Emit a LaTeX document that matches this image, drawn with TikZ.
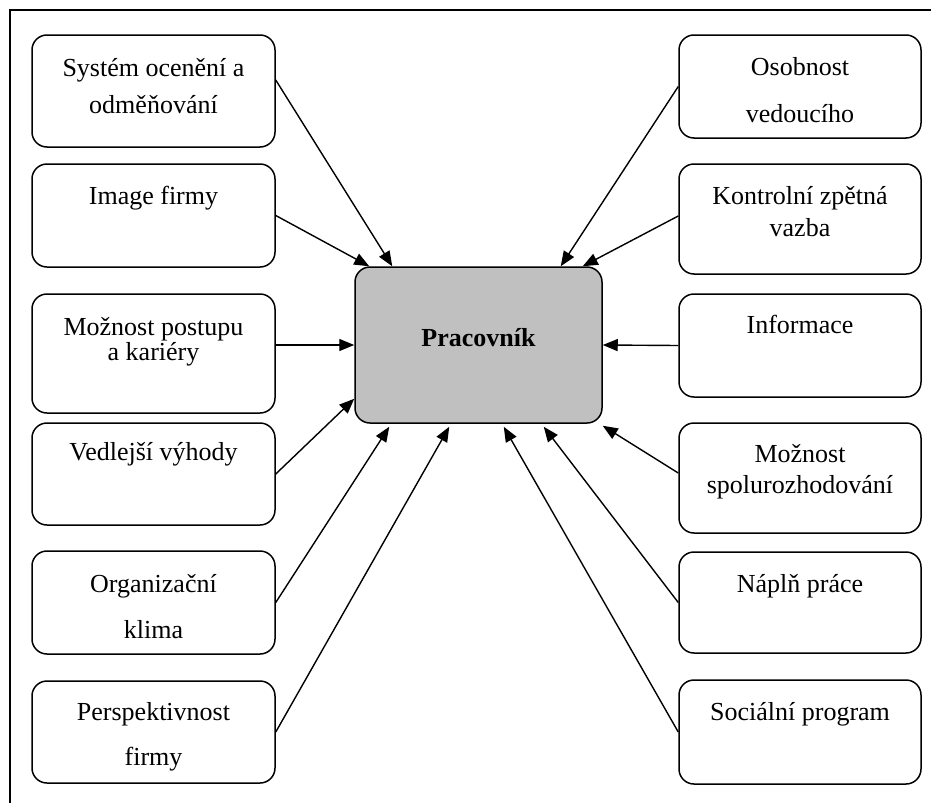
\documentclass[tikz,border=0pt]{standalone}
\usepackage{fontspec}
\setmainfont{Liberation Serif}
\usetikzlibrary{arrows.meta,calc}
\definecolor{boxgray}{RGB}{192,192,192}
\begin{document}
\begin{tikzpicture}[x=1pt,y=-1pt,
  fbox/.style={draw, line width=1.5pt, rounded corners=15pt, inner sep=0pt},
  lbox/.style={fbox, minimum width=243pt},
  rbox/.style={fbox, minimum width=242pt},
  txt/.style={anchor=base, inner sep=0pt, font=\fontsize{26}{30}\selectfont},
  arr/.style={line width=1.4pt, -{Triangle[length=15pt,width=12pt]}},
  frameline/.style={line width=1.4pt}]
\useasboundingbox (0,0) rectangle (931,803);

% frame
\coordinate (fa) at (931,10);
\coordinate (fb) at (10,10);
\coordinate (fc) at (10,803);
\draw[frameline] (fa) -- (fb) -- (fc);

% centre
\node[fbox, fill=boxgray, minimum width=247pt, minimum height=156pt] (c) at (478.5,345) {};
\node[txt, font=\fontsize{26}{30}\selectfont\bfseries] (ct) at (478.5,346) {Pracovník};

% left column
\node[lbox, minimum height=112pt] (l1) at (153.5,91) {};
\node[lbox, minimum height=103pt] (l2) at (153.5,215.5) {};
\node[lbox, minimum height=119pt] (l3) at (153.5,353.5) {};
\node[lbox, minimum height=102pt] (l4) at (153.5,474) {};
\node[lbox, minimum height=103pt] (l5) at (153.5,602.5) {};
\node[lbox, minimum height=102pt] (l6) at (153.5,732) {};

\node[txt] (l1a) at (153.5,76) {Systém ocenění a};
\node[txt] (l1b) at (153.5,113) {odměňování};
\node[txt] (l2a) at (153.5,204) {Image firmy};
\node[txt] (l3a) at (153.5,335) {Možnost postupu};
\node[txt] (l3b) at (153.5,360) {a kariéry};
\node[txt] (l4a) at (153.5,460) {Vedlejší výhody};
\node[txt] (l5a) at (153.5,592) {Organizační};
\node[txt] (l5b) at (153.5,638) {klima};
\node[txt] (l6a) at (153.5,720) {Perspektivnost};
\node[txt] (l6b) at (153.5,765) {firmy};

% right column
\node[rbox, minimum height=103pt] (r1) at (800,86.5) {};
\node[rbox, minimum height=110pt] (r2) at (800,219) {};
\node[rbox, minimum height=103pt] (r3) at (800,345.5) {};
\node[rbox, minimum height=110pt] (r4) at (800,478) {};
\node[rbox, minimum height=101pt] (r5) at (800,602.5) {};
\node[rbox, minimum height=104pt] (r6) at (800,732) {};

\node[txt] (r1a) at (800,75) {Osobnost};
\node[txt] (r1b) at (800,122) {vedoucího};
\node[txt] (r2a) at (800,204) {Kontrolní zpětná};
\node[txt] (r2b) at (800,236) {vazba};
\node[txt] (r3a) at (800,333) {Informace};
\node[txt] (r4a) at (800,462) {Možnost};
\node[txt] (r4b) at (800,493) {spolurozhodování};
\node[txt] (r5a) at (800,592) {Náplň práce};
\node[txt] (r6a) at (800,720) {Sociální program};

% arrows
\draw[arr] ([yshift=11pt]l1.east) -- ([xshift=38pt]c.north west);
\draw[arr] (l2.east) -- ([xshift=15pt]c.north west);
\draw[arr] ([yshift=8.5pt]l3.east) -- (c.west);
\draw[arr] (l4.east) -- ([yshift=25pt]c.south west);
\draw[arr] (l5.east) -- ([xshift=35pt,yshift=-3pt]c.south west);
\draw[arr] (l6.east) -- ([xshift=95pt,yshift=-3pt]c.south west);

\draw[arr] (r1.west) -- ([xshift=-42pt]c.north east);
\draw[arr] ([yshift=3pt]r2.west) -- ([xshift=-20pt]c.north east);
\draw[arr] (r3.west) -- (c.east);
\draw[arr] ([yshift=5pt]r4.west) -- ([yshift=-2pt]c.south east);
\draw[arr] (r5.west) -- ([xshift=-59pt,yshift=-3pt]c.south east);
\draw[arr] (r6.west) -- ([xshift=-99pt,yshift=-3pt]c.south east);
\end{tikzpicture}
\end{document}
